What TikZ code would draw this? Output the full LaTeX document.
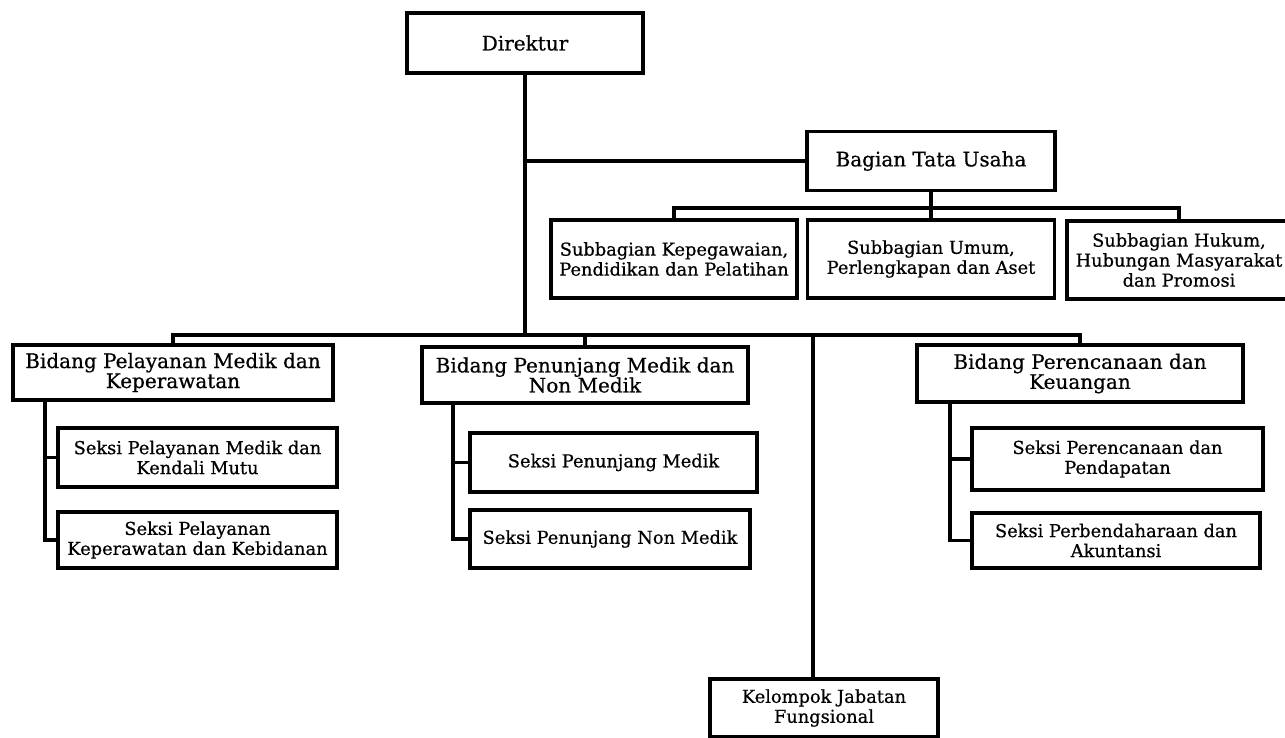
\documentclass[tikz,border=0pt]{standalone}
\usepackage{fontspec}
\setmainfont[FakeBold=0.6]{DejaVu Serif}
\usetikzlibrary{positioning,calc}

\begin{document}
\begin{tikzpicture}[x=1pt, y=-1pt, unit/.style={rectangle, draw, line width=3.8pt, fill=white, align=center, inner sep=2pt, font=\fontsize{20}{20}\selectfont}, subunit/.style={unit, font=\fontsize{17.8}{20}\selectfont}, link/.style={line width=3.8pt}]
			
			\useasboundingbox (0,0) rectangle (1285,737);
			\fill[white] (0,0) rectangle (1285,737);
			
			% UNITS
			
			\node [unit, minimum width=236, minimum height=60] (direktur) at (525,43) {Direktur};
			\node [unit, minimum width=248, minimum height=59] (tatausaha) at (931,161) {Bagian Tata Usaha};
			
			\node [subunit, minimum width=246, minimum height=78] (kepegawaian) at (674,259) {Subbagian Kepegawaian,\\Pendidikan dan Pelatihan};
			\node [subunit, minimum width=247, minimum height=78] (umum) at (931,259) {Subbagian Umum,\\Perlengkapan dan Aset};
			\node [subunit, minimum width=224, minimum height=78] (hukum) at (1179,260) {Subbagian Hukum,\\Hubungan Masyarakat\\dan Promosi};
			
			\node [unit, minimum width=320, minimum height=55] (pelayanan) at (173,372.5) {Bidang Pelayanan Medik dan\\Keperawatan};
			\node [unit, minimum width=326, minimum height=56] (penunjang) at (585,375) {Bidang Penunjang Medik dan\\Non Medik};
			\node [unit, minimum width=326, minimum height=57] (perencanaan) at (1080,373.5) {Bidang Perencanaan dan\\Keuangan};
			
			\node [subunit, minimum width=279, minimum height=59] (seksimutu) at (197.5,457.5) {Seksi Pelayanan Medik dan\\Kendali Mutu};
			\node [subunit, minimum width=279, minimum height=56] (seksikebidanan) at (197.5,540) {Seksi Pelayanan\\Keperawatan dan Kebidanan};
			\node [subunit, minimum width=287, minimum height=59] (seksimedik) at (613.5,462.5) {Seksi Penunjang Medik};
			\node [subunit, minimum width=280, minimum height=58] (seksinonmedik) at (610,539) {Seksi Penunjang Non Medik};
			\node [subunit, minimum width=291, minimum height=62] (seksipendapatan) at (1117.5,459) {Seksi Perencanaan dan\\Pendapatan};
			\node [subunit, minimum width=288, minimum height=55] (seksiakuntansi) at (1116,540.5) {Seksi Perbendaharaan dan\\Akuntansi};
			
			\node [subunit, minimum width=228, minimum height=58] (fungsional) at (824,708) {Kelompok Jabatan\\Fungsional};
			
			% CONNECTORS
			
			\coordinate (tujunction) at (525,161);
			\coordinate (bus) at (525,335);
			\coordinate (tubus) at (931,208);
			\coordinate (fbus) at (813,335);
			
			\draw [link] (direktur) -- (bus);
			\draw [link] (tujunction) -- (tatausaha.west);
			\draw [link] (tatausaha) -- (tubus);
			\draw [link] (tubus) -| (kepegawaian.north);
			\draw [link] (tubus) -- (umum.north);
			\draw [link] (tubus) -| (hukum.north);
			
			\draw [link] (bus) -| (pelayanan.north);
			\draw [link] (bus) -| (penunjang.north);
			\draw [link] (bus) -| (perencanaan.north);
			\draw [link] (fbus) -- (fbus |- fungsional.north);
			
			\draw [link] ([xshift=34]pelayanan.south west) |- (seksimutu.west);
			\draw [link] ([xshift=34]pelayanan.south west) |- (seksikebidanan.west);
			\draw [link] ([xshift=33]penunjang.south west) |- (seksimedik.west);
			\draw [link] ([xshift=33]penunjang.south west) |- (seksinonmedik.west);
			\draw [link] ([xshift=35]perencanaan.south west) |- (seksipendapatan.west);
			\draw [link] ([xshift=35]perencanaan.south west) |- (seksiakuntansi.west);
		
		\end{tikzpicture}
\end{document}
